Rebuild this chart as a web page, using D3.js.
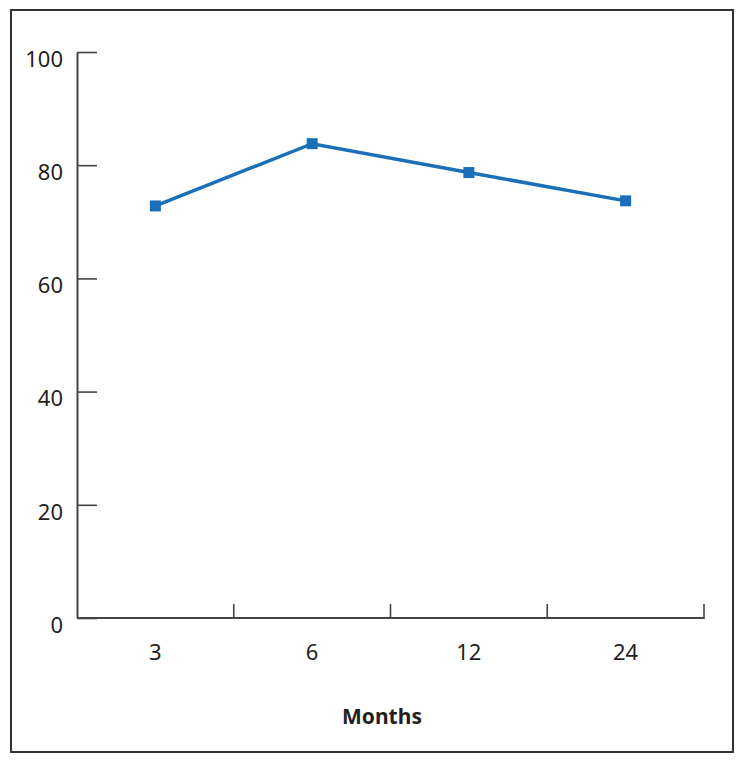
<!DOCTYPE html>
<html>
<head>
    <meta charset="UTF-8">
    <title>Months chart</title>
    <script src="https://cdn.jsdelivr.net/npm/d3@7"></script>
    <style>
        body { margin: 0; background: #fff; }
        text { font-family: "Noto Sans", "Open Sans", sans-serif; fill: #231f20; }
    </style>
</head>
<body>
<div id="chart"></div>
<script>
    // data
    var months = ["3", "6", "12", "24"];
    var values = [72.8, 83.8, 78.7, 73.7];
    var yTicks = [0, 20, 40, 60, 80, 100];

    var W = 744, H = 764;
    var svg = d3.select("#chart").append("svg")
        .attr("width", W)
        .attr("height", H);

    // outer frame
    svg.append("rect")
        .attr("x", 11).attr("y", 10)
        .attr("width", 722).attr("height", 742)
        .attr("fill", "none")
        .attr("stroke", "#333")
        .attr("stroke-width", 2);

    var plotLeft = 77, plotRight = 704, plotTop = 52, plotBottom = 618;

    var x = d3.scaleBand().domain(months).range([plotLeft, plotRight]);
    var y = d3.scaleLinear().domain([0, 100]).range([plotBottom, plotTop]);

    // y axis: ticks point inward
    var yAxis = svg.append("g")
        .attr("transform", "translate(" + plotLeft + ",0)")
        .call(d3.axisLeft(y).tickValues(yTicks).tickSizeInner(-20).tickSizeOuter(0).tickPadding(14));
    yAxis.select(".domain").attr("stroke", "#444").attr("stroke-width", 2);
    yAxis.selectAll(".tick line").attr("stroke", "#444").attr("stroke-width", 1.6);
    yAxis.selectAll(".tick text")
        .style("font-size", "22px")
        .attr("dy", "0.65em")
        .attr("fill", "#231f20");

    // x axis: ticks at band boundaries pointing up
    var xAxisG = svg.append("g").attr("transform", "translate(0," + plotBottom + ")");
    xAxisG.append("line")
        .attr("x1", plotLeft).attr("x2", plotRight)
        .attr("stroke", "#444").attr("stroke-width", 2);
    xAxisG.selectAll(".xt")
        .data(months)
        .enter().append("line")
        .attr("x1", function (d) { return x(d) + x.bandwidth(); })
        .attr("x2", function (d) { return x(d) + x.bandwidth(); })
        .attr("y1", 1).attr("y2", -14)
        .attr("stroke", "#444").attr("stroke-width", 1.6);
    xAxisG.selectAll(".xl")
        .data(months)
        .enter().append("text")
        .attr("x", function (d) { return x(d) + x.bandwidth() / 2; })
        .attr("y", 42)
        .attr("text-anchor", "middle")
        .style("font-size", "22px")
        .text(function (d) { return d; });

    svg.append("text")
        .attr("x", 382).attr("y", 724)
        .attr("text-anchor", "middle")
        .style("font-size", "21px")
        .style("font-weight", "bold")
        .text("Months");

    // series
    var pts = months.map(function (m, i) { return { m: m, v: values[i] }; });
    var cx = function (d) { return x(d.m) + x.bandwidth() / 2; };

    svg.append("path")
        .datum(pts)
        .attr("fill", "none")
        .attr("stroke", "#1b6fb7")
        .attr("stroke-width", 3.5)
        .attr("d", d3.line().x(cx).y(function (d) { return y(d.v); }));

    svg.selectAll(".mk")
        .data(pts)
        .enter().append("rect")
        .attr("x", function (d) { return cx(d) - 5.5; })
        .attr("y", function (d) { return y(d.v) - 5.5; })
        .attr("width", 11).attr("height", 11)
        .attr("fill", "#1b6fb7");
</script>
</body>
</html>
